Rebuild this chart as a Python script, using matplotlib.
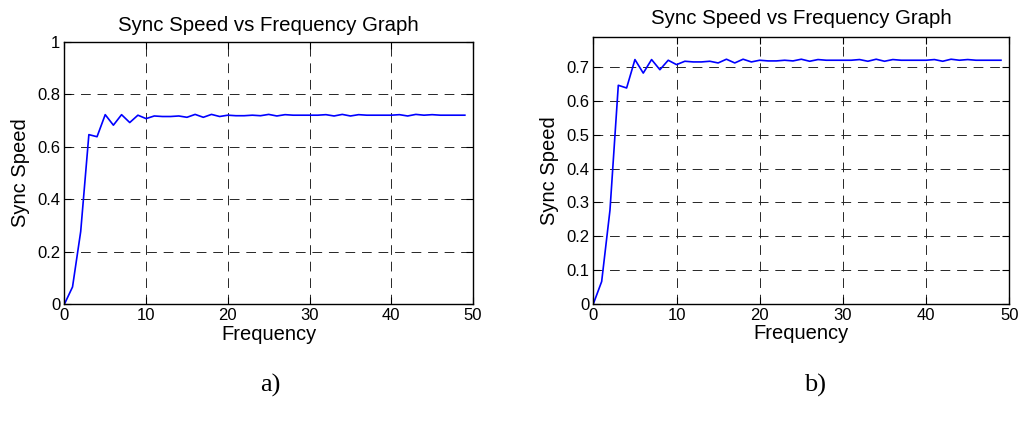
import matplotlib
matplotlib.use("Agg")
import matplotlib.pyplot as plt

plt.rcParams['font.family'] = ['Liberation Sans', 'DejaVu Sans']

frequency = list(range(50))
sync_speed = [
    0.000, 0.066, 0.277, 0.646, 0.638, 0.722, 0.682, 0.722, 0.692, 0.720,
    0.707, 0.717, 0.715, 0.715, 0.717, 0.712, 0.723, 0.712, 0.723, 0.715,
    0.720, 0.718, 0.718, 0.720, 0.718, 0.723, 0.717, 0.722, 0.720, 0.720,
    0.720, 0.720, 0.722, 0.717, 0.723, 0.717, 0.722, 0.720, 0.720, 0.720,
    0.720, 0.722, 0.717, 0.723, 0.720, 0.722, 0.720, 0.720, 0.720, 0.720,
]

x_ticks = [0, 10, 20, 30, 40, 50]
y_ticks_a = [0, 0.2, 0.4, 0.6, 0.8, 1.0]
y_tick_labels_a = ['0', '0.2', '0.4', '0.6', '0.8', '1']
y_ticks_b = [0, 0.1, 0.2, 0.3, 0.4, 0.5, 0.6, 0.7]
y_tick_labels_b = ['0', '0.1', '0.2', '0.3', '0.4', '0.5', '0.6', '0.7']

title = 'Sync Speed vs Frequency Graph'
xlabel = 'Frequency'
ylabel = 'Sync Speed'

fig = plt.figure(figsize=(10.23, 4.25), dpi=100)
fig.patch.set_facecolor('white')

ax_a = fig.add_axes([0.0629, 0.284, 0.3995, 0.618])
ax_b = fig.add_axes([0.580, 0.285, 0.4066, 0.629])


def style_axes(ax, yticks, ylabels, ylim, title_pad):
    ax.plot(frequency, sync_speed, color='#0000ff', linewidth=1.2)
    ax.set_xlim(0, 50)
    ax.set_ylim(*ylim)
    ax.set_xticks(x_ticks)
    ax.set_xticklabels([str(t) for t in x_ticks])
    ax.set_yticks(yticks)
    ax.set_yticklabels(ylabels)
    ax.tick_params(direction='in', top=True, right=True, length=5, width=0.8,
                   labelsize=12, pad=3, colors='black')
    ax.grid(True, color='0.15', linestyle=(0, (10, 7)), linewidth=0.7)
    for sp in ax.spines.values():
        sp.set_linewidth(1.0)
        sp.set_color('black')
    ax.set_title(title, fontsize=14.7, pad=title_pad)
    ax.set_xlabel(xlabel, fontsize=14.5, labelpad=1)
    ax.set_ylabel(ylabel, fontsize=14.5, labelpad=5)


style_axes(ax_a, y_ticks_a, y_tick_labels_a, (0, 1.0), 8)
style_axes(ax_b, y_ticks_b, y_tick_labels_b, (0, 0.79), 9)

fig.text(0.264, 0.093, 'a)', family=['Liberation Serif', 'DejaVu Serif'],
         fontsize=19, ha='center', va='center')
fig.text(0.797, 0.093, 'b)', family=['Liberation Serif', 'DejaVu Serif'],
         fontsize=19, ha='center', va='center')

fig.savefig('out.png', dpi=100, facecolor='white')
